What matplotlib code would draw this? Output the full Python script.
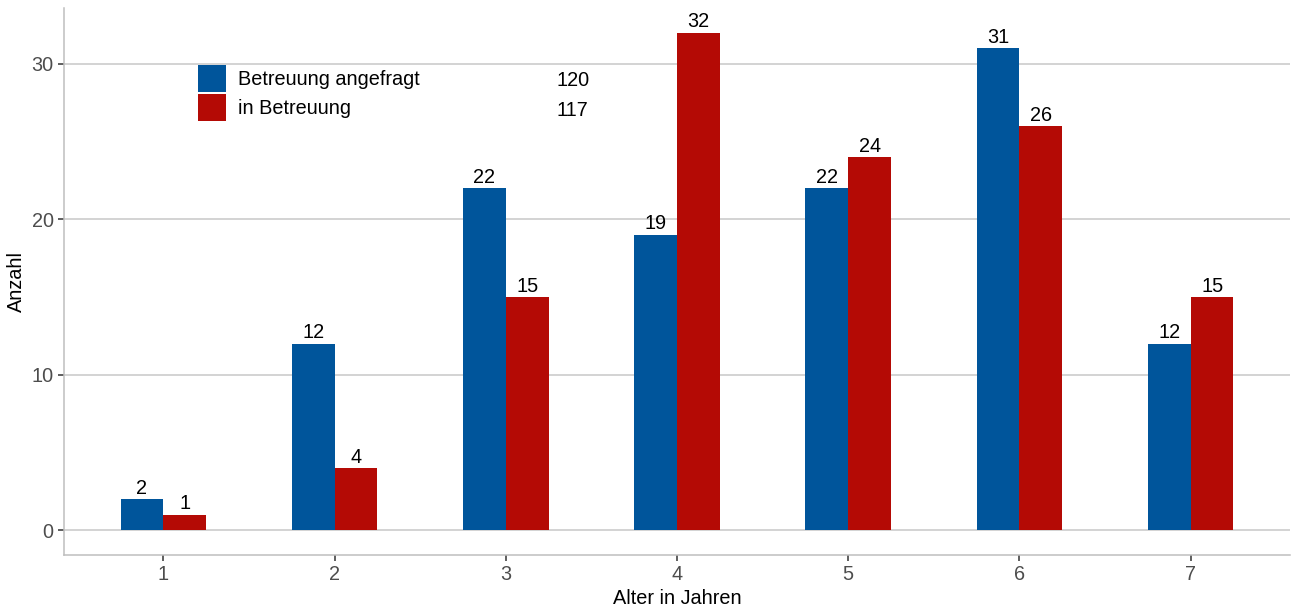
import numpy as np
import matplotlib.pyplot as plt
from matplotlib.patches import Patch

plt.rcParams['font.family'] = ['Liberation Sans', 'DejaVu Sans']

alter = [1, 2, 3, 4, 5, 6, 7]
angefragt = [2, 12, 22, 19, 22, 31, 12]
in_betreuung = [1, 4, 15, 32, 24, 26, 15]
serien = ['Betreuung angefragt', 'in Betreuung']
summen = [120, 117]

blau = '#00559B'
rot = '#B40A05'
grau = '#BEBEBE'
fs = 14.3

fig = plt.figure(figsize=(12.91, 6.10), dpi=100)
ax = fig.add_axes([64/1291, 55/610, 1226/1291, 547/610])

x = np.array(alter)
w = 0.25
b1 = ax.bar(x - w/2, angefragt, width=w, color=blau, zorder=3)
b2 = ax.bar(x + w/2, in_betreuung, width=w, color=rot, zorder=3)

for bars, vals in [(b1, angefragt), (b2, in_betreuung)]:
    for rect, v in zip(bars, vals):
        ax.annotate(str(v), (rect.get_x() + rect.get_width()/2, v),
                    xytext=(0, 1), textcoords='offset points',
                    ha='center', va='bottom', fontsize=fs, color='black')

ax.set_xlim(0.42, 7.58)
ax.set_ylim(-1.6, 33.6)
ax.set_xticks(alter)
ax.set_yticks([0, 10, 20, 30])
ax.yaxis.grid(True, color='#C8C8C8', linewidth=1.1, zorder=0)
ax.set_axisbelow(True)
for s in ['top', 'right']:
    ax.spines[s].set_visible(False)
for s in ['left', 'bottom']:
    ax.spines[s].set_color(grau)
    ax.spines[s].set_linewidth(1.1)
ax.tick_params(labelcolor='#4D4D4D', labelsize=fs, length=4, width=1.1, color='#333333')
ax.set_xlabel('Alter in Jahren', fontsize=fs, labelpad=3)
ax.set_ylabel('Anzahl', fontsize=fs, labelpad=4)

handles = [Patch(facecolor=blau), Patch(facecolor=rot)]
leg = ax.legend(handles, serien, loc='upper left', bbox_to_anchor=(0.109, 0.896),
                frameon=False, fontsize=fs, handlelength=1.41, handleheight=1.72,
                labelspacing=0.12, handletextpad=0.6, borderaxespad=0, borderpad=0)
for t, y in zip(summen, [80, 111]):
    fig.text(557/1291, 1 - y/610, str(t), fontsize=fs, va='center', ha='left')

fig.savefig('out.png', dpi=100)
